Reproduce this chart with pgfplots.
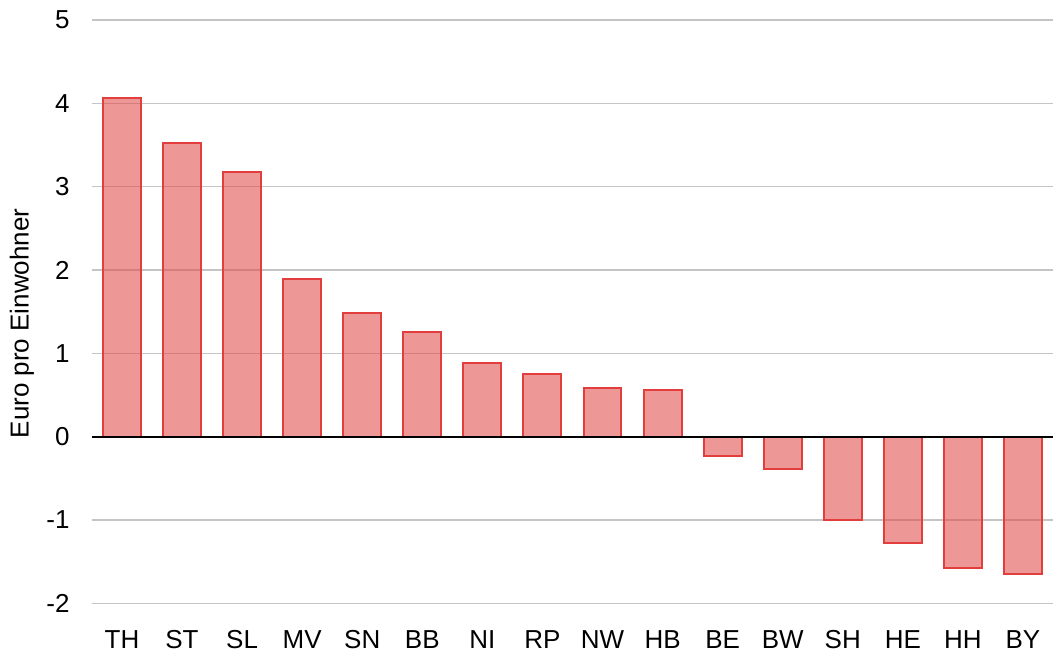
\documentclass[border=0pt]{standalone}
\usepackage{fontspec}
\setmainfont{Liberation Sans}
\usepackage{pgfplots}
\pgfplotsset{compat=1.18}
\definecolor{barfill}{RGB}{224,76,74}
\definecolor{baredge}{RGB}{226,62,62}
\definecolor{gridgray}{RGB}{196,196,196}

\begin{document}
\begin{tikzpicture}
\begin{axis}[
  scale only axis,
  width=481pt, height=292pt,
  xmin=-0.5, xmax=15.5,
  ymin=-2, ymax=5,
  ytick={-2,-1,0,1,2,3,4,5},
  xtick={0,...,15},
  xticklabels={TH,ST,SL,MV,SN,BB,NI,RP,NW,HB,BE,BW,SH,HE,HH,BY},
  axis line style={draw=none},
  tick style={draw=none},
  ymajorgrids, grid style={gridgray, line width=0.8pt},
  tick label style={font=\fontsize{13}{15}\selectfont},
  yticklabel style={anchor=east, inner sep=0pt, xshift=-11pt},
  xticklabel style={anchor=north, inner sep=0pt, yshift=-9pt},
  /pgf/number format/assume math mode=true,
  ybar, bar width=19pt,
  clip=false,
]
\addplot[draw=baredge, line width=1pt, fill=barfill, fill opacity=0.58] coordinates {
  (0,4.06) (1,3.52) (2,3.17) (3,1.89) (4,1.48) (5,1.26) (6,0.88) (7,0.75)
  (8,0.59) (9,0.56) (10,-0.23) (11,-0.39) (12,-1.00) (13,-1.28) (14,-1.57) (15,-1.65)
};
\draw[black, line width=1pt] (axis cs:-0.5,0) -- (axis cs:15.5,0);
\node[rotate=90, font=\fontsize{13}{15}\selectfont] at ([xshift=-35pt]rel axis cs:0,0.48) {Euro pro Einwohner};
\path ([xshift=-46pt,yshift=-24pt]rel axis cs:0,0) rectangle ([yshift=10pt]rel axis cs:1,1);
\end{axis}
\end{tikzpicture}
\end{document}
